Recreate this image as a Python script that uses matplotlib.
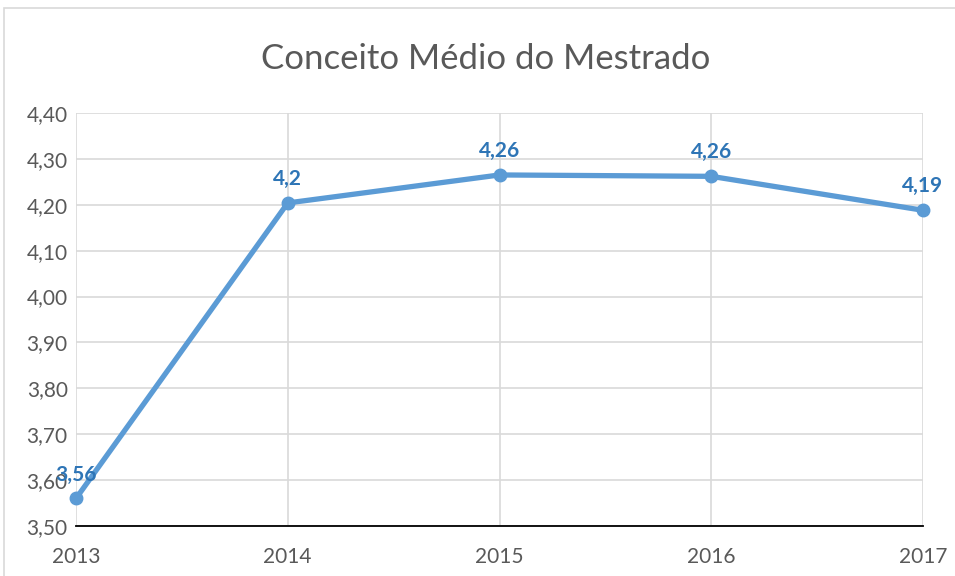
import matplotlib
matplotlib.use("Agg")
import matplotlib.pyplot as plt
from matplotlib.patches import Rectangle

# data
years = ["2013", "2014", "2015", "2016", "2017"]
conceito = [3.56, 4.204, 4.265, 4.262, 4.188]
labels = ["3,56", "4,2", "4,26", "4,26", "4,19"]
yticks = [3.5, 3.6, 3.7, 3.8, 3.9, 4.0, 4.1, 4.2, 4.3, 4.4]

plt.rcParams['font.family'] = ['Lato', 'DejaVu Sans']

fig = plt.figure(figsize=(9.55, 5.76), dpi=100)
# chart area border (cut at right and bottom as in the screenshot)
fig.patches.append(Rectangle((4/955, -0.2), 1.2, 1.2 - 8/576, transform=fig.transFigure,
                             fill=False, edgecolor='#d9d9d9', linewidth=1.2))
ax = fig.add_axes([76/955, 1 - 526/576, 847/955, 413/576])

x = list(range(len(years)))
ax.plot(x, conceito, color='#5b9bd5', linewidth=3.8, marker='o', markersize=9,
        solid_capstyle='round', zorder=3, clip_on=False)
for xi, yi, lab in zip(x, conceito, labels):
    ax.annotate(lab, (xi, yi), xytext=(0, 10), textcoords='offset points',
                ha='center', va='bottom', fontsize=15, fontweight='bold', color='#2e75b6')

ax.set_xlim(0, len(years) - 1)
ax.set_ylim(3.5, 4.4)
ax.set_xticks(x)
ax.set_xticklabels(years)
ax.set_yticks(yticks)
ax.set_yticklabels([f"{v:.2f}".replace('.', ',') for v in yticks])
ax.tick_params(length=0, labelsize=15, colors='#595959')
ax.tick_params(axis='x', pad=15)
ax.tick_params(axis='y', pad=6)
ax.grid(True, color='#d9d9d9', linewidth=1.2)
ax.set_axisbelow(True)
for s in ['top', 'right', 'left']:
    ax.spines[s].set_visible(False)
ax.spines['bottom'].set_color('black')
ax.spines['bottom'].set_linewidth(1.3)
ax.spines['bottom'].set_zorder(2)

fig.text(486/955, 1 - 59/576, "Conceito Médio do Mestrado", ha='center', va='center',
         fontsize=25, color='#595959')

fig.savefig("out.png", dpi=100)
